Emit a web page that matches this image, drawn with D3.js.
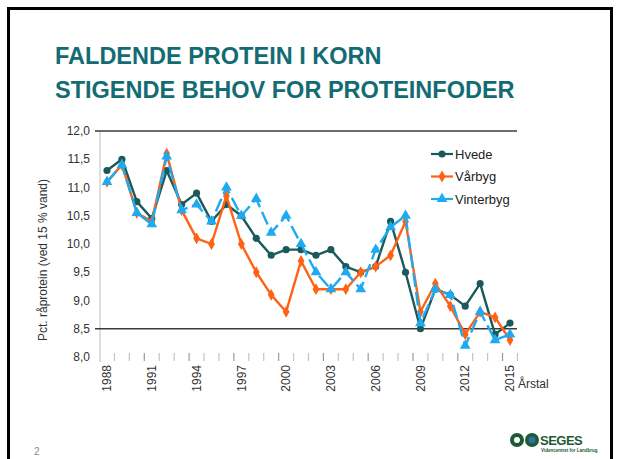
<!DOCTYPE html>
<html>
<head>
<meta charset="utf-8">
<script src="https://cdn.jsdelivr.net/npm/d3@7"></script>
<style>
html,body{margin:0;padding:0;background:#fff;}
svg{display:block;font-family:"Liberation Sans",Arial,sans-serif;}
</style>
</head>
<body>
<svg id="chart" width="619" height="459"></svg>
<script>
const titleLines = ["FALDENDE PROTEIN I KORN", "STIGENDE BEHOV FOR PROTEINFODER"];
const years = d3.range(1988, 2016);
const hvede = [11.3, 11.5, 10.75, 10.45, 11.3, 10.7, 10.9, 10.4, 10.7, 10.5, 10.1, 9.8, 9.9, 9.9, 9.8, 9.9, 9.6, 9.5, 9.6, 10.4, 9.5, 8.5, 9.2, 9.1, 8.9, 9.3, 8.4, 8.6];
const vaarbyg = [11.1, 11.4, 10.55, 10.4, 11.6, 10.6, 10.1, 10.0, 10.85, 10.0, 9.5, 9.1, 8.8, 9.7, 9.2, 9.2, 9.2, 9.5, 9.6, 9.8, 10.4, 8.8, 9.3, 8.9, 8.4, 8.8, 8.7, 8.3];
const vinterbyg = [11.1, 11.4, 10.55, 10.35, 11.55, 10.6, 10.7, 10.4, 11.0, 10.5, 10.8, 10.2, 10.5, 10.0, 9.5, 9.2, 9.5, 9.2, 9.9, 10.3, 10.5, 8.6, 9.2, 9.1, 8.2, 8.8, 8.3, 8.4];
const seriesNames = ["Hvede", "Vårbyg", "Vinterbyg"];
const yTicks = [8.0, 8.5, 9.0, 9.5, 10.0, 10.5, 11.0, 11.5, 12.0];
const xLabelYears = [1988, 1991, 1994, 1997, 2000, 2003, 2006, 2009, 2012, 2015];
const refLines = [12.0, 8.5];
const yTitle = "Pct. råprotein (ved 15 % vand)";
const xTitle = "Årstal";
const pageNo = "2";

const svg = d3.select("#chart");

// slide frame
svg.append("rect").attr("x", 8.5).attr("y", 8.5).attr("width", 603).attr("height", 470)
  .attr("fill", "none").attr("stroke", "#000").attr("stroke-width", 3);

// title
svg.selectAll("text.title").data(titleLines).enter().append("text")
  .attr("class", "title")
  .attr("x", 55).attr("y", (d, i) => 64 + i * 34)
  .attr("font-size", 23.5).attr("font-weight", "bold").attr("fill", "#136c74")
  .text(d => d);

const x = d3.scaleLinear().domain([1988, 2015]).range([107, 510]);
const y = d3.scaleLinear().domain([8, 12]).range([357, 131]);

// left axis line
svg.append("line").attr("x1", 100).attr("x2", 100).attr("y1", 131).attr("y2", 362)
  .attr("stroke", "#c8c8c8").attr("stroke-width", 1.2);

// reference horizontal lines
svg.selectAll("line.ref").data(refLines).enter().append("line")
  .attr("class", "ref")
  .attr("x1", 95).attr("x2", 517)
  .attr("y1", d => y(d)).attr("y2", d => y(d))
  .attr("stroke", "#3a3a3a").attr("stroke-width", 1.5);

// y tick labels
const fmt = d => d3.format(".1f")(d).replace(".", ",");
svg.selectAll("text.ytick").data(yTicks).enter().append("text")
  .attr("class", "ytick")
  .attr("x", 90).attr("y", d => y(d)).attr("dy", "0.35em")
  .attr("text-anchor", "end").attr("font-size", 12).attr("fill", "#333")
  .text(fmt);

// y title
svg.append("text")
  .attr("transform", "translate(47,260) rotate(-90)")
  .attr("text-anchor", "middle").attr("font-size", 12).attr("fill", "#333")
  .text(yTitle);

// x ticks between categories
const tickPos = d3.range(1988.5, 2015.6, 1);
svg.selectAll("line.xtick").data(tickPos).enter().append("line")
  .attr("class", "xtick")
  .attr("x1", d => x(d)).attr("x2", d => x(d))
  .attr("y1", 353).attr("y2", 361)
  .attr("stroke", (d, i) => (i % 3 === 2) ? "#999" : "#c4c4c4").attr("stroke-width", 1.2);

// x labels rotated
svg.selectAll("text.xlab").data(xLabelYears).enter().append("text")
  .attr("class", "xlab")
  .attr("transform", d => `translate(${x(d)},365) rotate(-90)`)
  .attr("dy", "0.35em").attr("text-anchor", "end")
  .attr("font-size", 12).attr("fill", "#333")
  .text(d => d);

svg.append("text").attr("x", 518).attr("y", 388)
  .attr("font-size", 12).attr("fill", "#333").text(xTitle);

const series = [
  {name: seriesNames[0], values: hvede, color: "#1b5a5a", marker: "circle", dash: null},
  {name: seriesNames[1], values: vaarbyg, color: "#ff6214", marker: "diamond", dash: null},
  {name: seriesNames[2], values: vinterbyg, color: "#1eaaf0", marker: "triangle", dash: "14,5"}
];

const line = d3.line().x((d, i) => x(years[i])).y(d => y(d));
const symbolType = {circle: d3.symbolCircle, diamond: d3.symbolDiamond, triangle: d3.symbolTriangle};
const symbolSize = {circle: 40, diamond: 40, triangle: 50};

series.forEach(s => {
  const g = svg.append("g");
  g.append("path").datum(s.values)
    .attr("d", line).attr("fill", "none")
    .attr("stroke", s.color).attr("stroke-width", 2.4)
    .attr("stroke-linejoin", "round")
    .attr("stroke-dasharray", s.dash);
  g.selectAll("path.mk").data(s.values).enter().append("path")
    .attr("class", "mk")
    .attr("transform", (d, i) => `translate(${x(years[i])},${y(d)})`)
    .attr("d", d3.symbol().type(symbolType[s.marker]).size(symbolSize[s.marker]))
    .attr("fill", s.color);
});

// legend
const leg = svg.append("g");
series.forEach((s, i) => {
  const ly = 154 + i * 22.5;
  leg.append("line").attr("x1", 431).attr("x2", 453).attr("y1", ly).attr("y2", ly)
    .attr("stroke", s.color).attr("stroke-width", 2.2);
  leg.append("path").attr("transform", `translate(442,${ly})`)
    .attr("d", d3.symbol().type(symbolType[s.marker]).size(symbolSize[s.marker]))
    .attr("fill", s.color);
  leg.append("text").attr("x", 455).attr("y", ly).attr("dy", "0.35em")
    .attr("font-size", 13).attr("fill", "#222").text(s.name);
});

// page number
svg.append("text").attr("x", 34).attr("y", 455).attr("font-size", 10).attr("fill", "#888").text(pageNo);

// logo approximation
const logo = svg.append("g");
logo.append("circle").attr("cx", 517).attr("cy", 440).attr("r", 7).attr("fill", "#1e5a33");
logo.append("circle").attr("cx", 517).attr("cy", 440).attr("r", 3).attr("fill", "#fff");
logo.append("circle").attr("cx", 532).attr("cy", 440).attr("r", 7).attr("fill", "#1e5a33");
logo.append("circle").attr("cx", 532).attr("cy", 440).attr("r", 3.5).attr("fill", "#2f6fa8");
logo.append("text").attr("x", 540).attr("y", 445).attr("font-size", 13).attr("font-weight", "bold")
  .attr("fill", "#1e5a33").attr("letter-spacing", -0.5).text("SEGES");
logo.append("text").attr("x", 541).attr("y", 452).attr("font-size", 4.5).attr("font-weight", "bold")
  .attr("fill", "#1e5a33").text("Videncentret for Landbrug");
</script>
</body>
</html>
